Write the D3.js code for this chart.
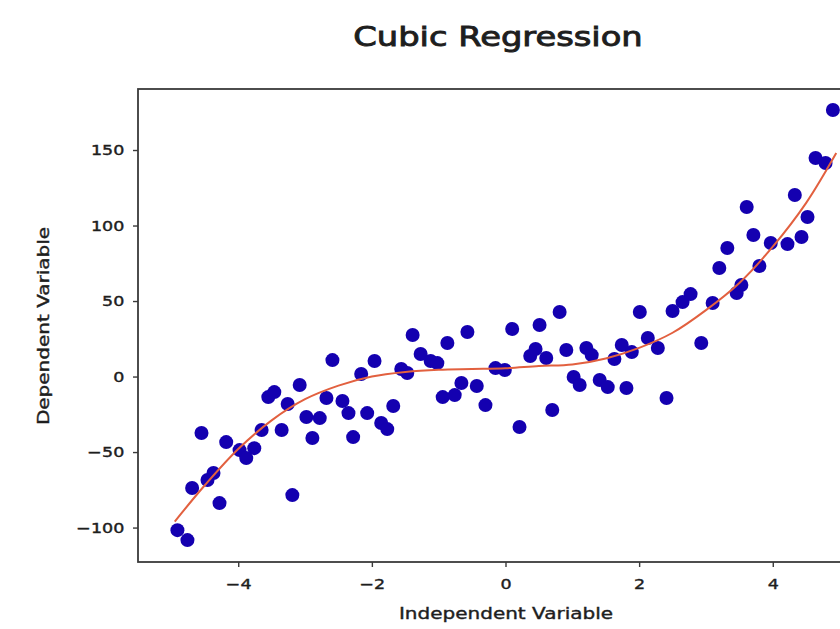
<!DOCTYPE html>
<html>
<head>
<meta charset="utf-8">
<script src="https://cdn.jsdelivr.net/npm/d3@7"></script>
<style>
  body { margin: 0; background: #fff; }
  text { font-family: "DejaVu Sans", sans-serif; fill: #1e1e1e; }
</style>
</head>
<body>
<svg id="chart" width="840" height="629"></svg>
<script>
// Observed samples
const sampleX = [
  -4.91, -4.76, -4.69, -4.46, -4.37, -4.28, -4.55, -4.18, -3.98, -3.88,
  -3.76, -3.65, -3.35, -3.55, -3.46, -3.26, -3.08, -3.19, -2.98, -2.78,
  -2.89, -2.59, -2.68, -2.44, -2.35, -2.16, -1.96, -2.28, -2.07, -1.86,
  -1.77, -1.68, -1.56, -1.47, -1.39, -1.27, -1.12, -1.02, -0.87, -0.57,
  -0.94, -0.76, -0.66, -0.43, -0.30, -0.15, -0.01, 0.10, 0.21, 0.51,
  0.81, 0.37, 0.45, 0.61, 0.70, 0.91, 1.21, 1.29, 1.02, 1.11,
  1.41, 1.53, 1.81, 1.63, 1.74, 1.89, 2.01, 2.13, 2.28, 2.41,
  2.50, 2.65, 2.77, 2.93, 3.10, 3.20, 3.32, 3.46, 3.53, 3.61,
  3.71, 3.80, 3.97, 4.22, 4.43, 4.33, 4.52, 4.64, 4.79, 4.90
];
const sampleY = [
  -101.7, -108.3, -73.8, -68.5, -63.9, -83.8, -37.4, -43.4, -48.7, -54.0,
  -47.4, -35.4, -35.4, -13.6, -10.3, -18.2, -5.6, -78.5, -26.8, -27.5,
  -40.7, 10.9, -14.2, -16.2, -24.2, 1.7, 10.3, -40.1, -24.2, -30.8,
  -34.8, -19.5, 5.0, 2.3, 27.5, 14.9, 10.3, 8.9, 22.2, 29.5,
  -13.6, -12.3, -4.3, -6.3, -18.9, 5.6, 4.3, 31.5, -33.4, 34.1,
  42.7, 13.6, 18.2, 12.3, -22.2, 17.6, 18.9, 14.2, -0.3, -5.6,
  -2.3, -7.0, -7.6, 11.6, 20.9, 16.2, 42.7, 25.5, 18.9, -14.2,
  43.4, 49.3, 54.6, 22.2, 48.7, 71.9, 85.1, 55.3, 60.6, 112.3,
  93.7, 73.2, 88.4, 87.7, 92.4, 120.2, 105.6, 144.7, 141.4, 176.5
];

// Fitted cubic curve, sampled along x
const fitX = [-4.95, -4.5, -4, -3.5, -3, -2.5, -2, -1.5, -1, -0.5, 0,
              0.5, 1, 1.5, 2, 2.5, 3, 3.5, 4, 4.5, 4.95];
const fitY = [-96, -72, -48, -29, -15, -6, 0, 3, 4.5, 5, 5.5,
              7, 8, 12, 19, 29, 44, 62, 86, 115, 148];

const xTickValues = [-4, -2, 0, 2, 4];
const yTickValues = [-100, -50, 0, 50, 100, 150];

const chartTitle = "Cubic Regression";
const xLabel = "Independent Variable";
const yLabel = "Dependent Variable";

const svg = d3.select("#chart");
const plot = { left: 138, top: 89, right: 873, bottom: 562 };
const WIDE = 1.25; // horizontal stretch of the lettering
const INK = "#1e1e1e";

const x = d3.scaleLinear().domain([-5.5, 5.5]).range([plot.left, plot.right]);
const y = d3.scaleLinear().domain([-122.8, 190.4]).range([plot.bottom, plot.top]);

// Scatter points
svg.append("g")
  .selectAll("circle")
  .data(d3.range(sampleX.length))
  .join("circle")
  .attr("cx", i => x(sampleX[i]))
  .attr("cy", i => y(sampleY[i]))
  .attr("r", 7)
  .attr("fill", "#1400b0");

// Regression curve
const line = d3.line()
  .x(i => x(fitX[i]))
  .y(i => y(fitY[i]))
  .curve(d3.curveCatmullRom);
svg.append("path")
  .datum(d3.range(fitX.length))
  .attr("d", line)
  .attr("fill", "none")
  .attr("stroke", "#e2603f")
  .attr("stroke-width", 2);

// Axes
const fmt = d3.format("d");
const xAxis = svg.append("g")
  .attr("transform", `translate(0,${plot.bottom})`)
  .call(d3.axisBottom(x).tickValues(xTickValues).tickFormat(d => fmt(d))
    .tickSize(5).tickPadding(12));
const yAxis = svg.append("g")
  .attr("transform", `translate(${plot.left},0)`)
  .call(d3.axisLeft(y).tickValues(yTickValues).tickFormat(d => fmt(d))
    .tickSize(5).tickPadding(6));

[xAxis, yAxis].forEach(ax => {
  ax.select(".domain").remove();
  ax.selectAll(".tick line").attr("stroke", "#3a3a3a").attr("stroke-width", 1.4);
  ax.selectAll(".tick text")
    .attr("font-size", 14)
    .attr("font-family", "DejaVu Sans")
    .attr("fill", INK)
    .attr("stroke", INK)
    .attr("stroke-width", 0.4)
    .attr("transform", `scale(${WIDE},1)`);
});

// Frame
svg.append("rect")
  .attr("x", plot.left)
  .attr("y", plot.top)
  .attr("width", plot.right - plot.left)
  .attr("height", plot.bottom - plot.top)
  .attr("fill", "none")
  .attr("stroke", "#3a3a3a")
  .attr("stroke-width", 1.8);

// Title and axis labels
function stretchedText(px, py, str, size, weight, rotate) {
  const g = svg.append("g")
    .attr("transform", `translate(${px},${py})` + (rotate ? ` rotate(${rotate})` : "") + ` scale(${WIDE},1)`);
  return g.append("text")
    .attr("text-anchor", "middle")
    .attr("font-size", size)
    .attr("stroke", INK)
    .attr("stroke-width", weight)
    .text(str);
}
stretchedText(498, 46, chartTitle, 27, 0.9);
stretchedText(506, 619, xLabel, 16, 0.4);
stretchedText(49, 326, yLabel, 16, 0.4, -90);
</script>
</body>
</html>
